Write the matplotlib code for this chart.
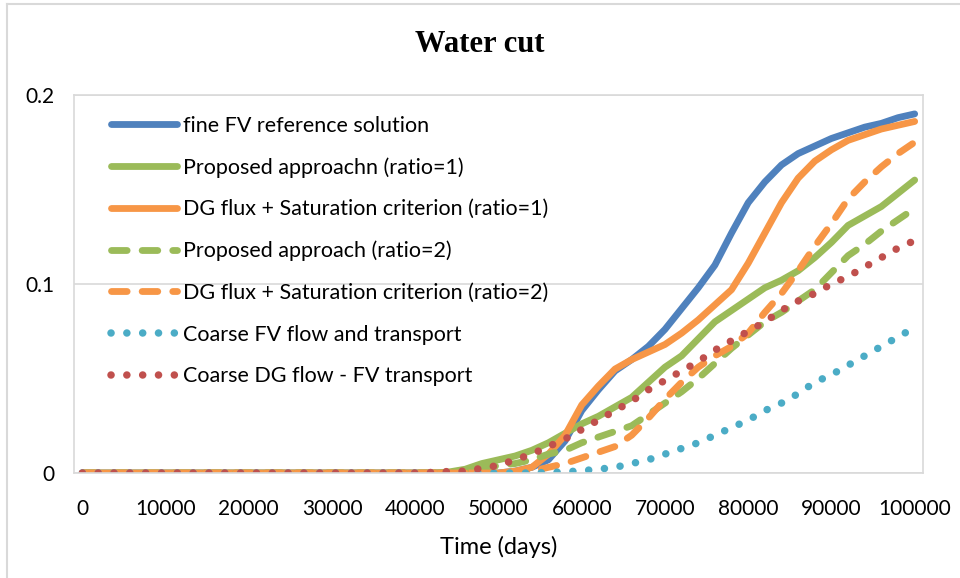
import matplotlib
matplotlib.use("Agg")
from matplotlib import pyplot as plt
from matplotlib.lines import Line2D
import numpy as np

# time axis, every 2000 days
days = list(range(0, 100001, 2000))

zeros_to_40k = [0.0] * 21   # 0 .. 40000

fine_fv = zeros_to_40k + [0, 0, 0, 0, 0, 0.001, 0.003, 0.007, 0.017, 0.033,
                          0.044, 0.054, 0.060, 0.067, 0.076, 0.087, 0.098, 0.110, 0.127, 0.143,
                          0.154, 0.163, 0.169, 0.173, 0.177, 0.180, 0.183, 0.185, 0.188, 0.190]

prop_r1 = zeros_to_40k + [0, 0.0005, 0.002, 0.005, 0.007, 0.009, 0.012, 0.016, 0.021, 0.026,
                          0.030, 0.035, 0.040, 0.048, 0.056, 0.062, 0.071, 0.080, 0.086, 0.092,
                          0.098, 0.102, 0.107, 0.114, 0.122, 0.131, 0.136, 0.141, 0.148, 0.155]

dgsat_r1 = zeros_to_40k + [0, 0, 0, 0, 0, 0.001, 0.003, 0.010, 0.020, 0.036,
                           0.046, 0.055, 0.060, 0.064, 0.068, 0.074, 0.081, 0.089, 0.097, 0.111,
                           0.127, 0.143, 0.156, 0.165, 0.171, 0.176, 0.179, 0.182, 0.184, 0.186]

prop_r2 = zeros_to_40k + [0, 0, 0.001, 0.002, 0.004, 0.005, 0.007, 0.010, 0.012, 0.016,
                          0.019, 0.022, 0.025, 0.031, 0.037, 0.043, 0.050, 0.058, 0.066, 0.073,
                          0.080, 0.085, 0.091, 0.097, 0.106, 0.115, 0.121, 0.128, 0.134, 0.140]

dgsat_r2 = zeros_to_40k + [0, 0, 0, 0, 0, 0, 0.001, 0.003, 0.005, 0.008,
                           0.011, 0.014, 0.020, 0.029, 0.039, 0.048, 0.056, 0.062, 0.067, 0.074,
                           0.085, 0.095, 0.107, 0.120, 0.132, 0.145, 0.154, 0.162, 0.169, 0.175]

coarse_fv = zeros_to_40k + [0, 0, 0, 0, 0, 0, 0, 0.0003, 0.0006, 0.0012,
                            0.002, 0.003, 0.005, 0.007, 0.010, 0.013, 0.016, 0.020, 0.024, 0.028,
                            0.033, 0.037, 0.042, 0.048, 0.052, 0.057, 0.062, 0.067, 0.072, 0.077]

coarse_dg = zeros_to_40k + [0.0003, 0.0008, 0.001, 0.0025, 0.004, 0.007, 0.010, 0.014, 0.018, 0.023,
                            0.028, 0.033, 0.038, 0.044, 0.049, 0.054, 0.059, 0.065, 0.070, 0.075,
                            0.080, 0.086, 0.091, 0.095, 0.100, 0.104, 0.109, 0.114, 0.119, 0.123]

labels = ["fine FV reference solution",
          "Proposed approachn (ratio=1)",
          "DG flux + Saturation criterion (ratio=1)",
          "Proposed approach (ratio=2)",
          "DG flux + Saturation criterion (ratio=2)",
          "Coarse FV flow and transport",
          "Coarse DG flow - FV transport"]

x_ticks = list(range(0, 100001, 10000))
y_ticks = [0, 0.1, 0.2]
y_tick_labels = ["0", "0.1", "0.2"]

blue, green, orange, cyan, red = "#4F81BD", "#9BBB59", "#F79646", "#4BACC6", "#C0504D"
grid_col = "#D9D9D9"
lw = 4.9
dot_lw = 5.4
dash = (0, (2.3, 2.2))
dot = (0, (0.01, 2.1))

plt.rcParams['font.family'] = ['Lato', 'DejaVu Sans']

fig = plt.figure(figsize=(9.6, 5.78), dpi=100)
ax = fig.add_axes([74/960, 1-473/578, (923-74)/960, (473-95)/578])

ax.plot(days, fine_fv, color=blue, lw=lw, solid_capstyle='round', label=labels[0])
ax.plot(days, prop_r1, color=green, lw=lw, solid_capstyle='round', label=labels[1])
ax.plot(days, dgsat_r1, color=orange, lw=lw, solid_capstyle='round', label=labels[2])
ax.plot(days, prop_r2, color=green, lw=lw, ls=dash, dash_capstyle='round', label=labels[3])
ax.plot(days, dgsat_r2, color=orange, lw=lw, ls=dash, dash_capstyle='round', label=labels[4])
ax.plot(days, coarse_fv, color=cyan, lw=dot_lw, ls=dot, dash_capstyle='round', label=labels[5])
ax.plot(days, coarse_dg, color=red, lw=dot_lw, ls=dot, dash_capstyle='round', label=labels[6])

ax.set_xlim(-1000, 101000)
ax.set_ylim(0, 0.2)
ax.set_xticks(x_ticks)
ax.set_xticklabels([str(t) for t in x_ticks])
ax.set_yticks(y_ticks)
ax.set_yticklabels(y_tick_labels)
ax.tick_params(length=0, labelsize=15, colors="black")
ax.tick_params(axis='x', pad=19)
ax.tick_params(axis='y', pad=14)
ax.grid(axis='y', color=grid_col, lw=1.2)
ax.set_axisbelow(True)
for sp in ax.spines.values():
    sp.set_color(grid_col)
    sp.set_linewidth(1.2)

ax.set_xlabel("Time (days)", fontsize=17, labelpad=12)
fig.text(0.5, 1-45/578, "Water cut", ha='center', va='center',
         fontsize=22, fontweight='bold', family='Liberation Serif')

leg = ax.legend(loc='upper left', bbox_to_anchor=(0.033, 0.968), frameon=False,
                fontsize=15.5, handlelength=3.1, handletextpad=0.25,
                labelspacing=1.0, borderaxespad=0)

# outer chart border (top and left visible)
fig.add_artist(Line2D([7/960, 1], [1-4/578, 1-4/578], color=grid_col, lw=1.5))
fig.add_artist(Line2D([7/960, 7/960], [0, 1-4/578], color=grid_col, lw=1.5))

fig.savefig("out.png", dpi=100)
